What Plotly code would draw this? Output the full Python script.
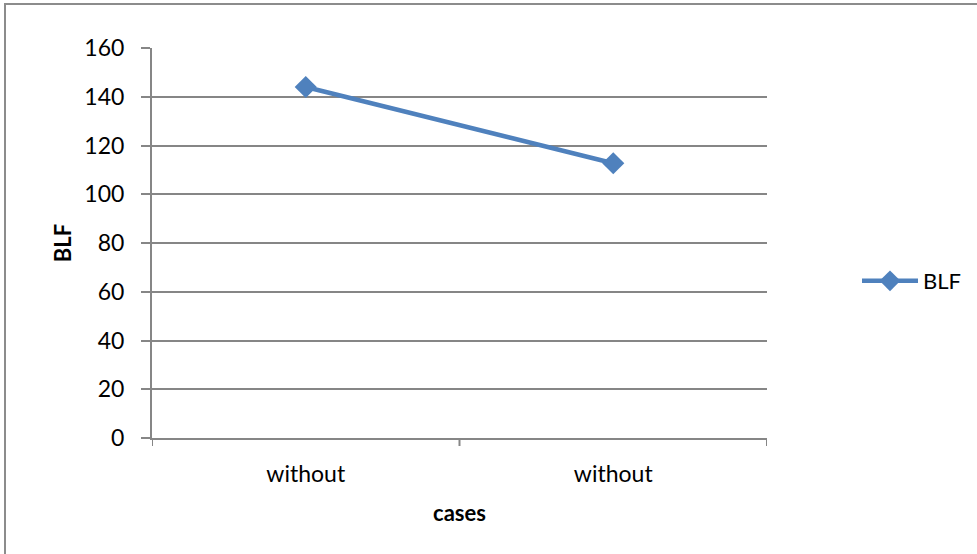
import plotly.graph_objects as go

categories = ["without", "without"]
blf_values = [144, 112.7]
y_ticks = [0, 20, 40, 60, 80, 100, 120, 140, 160]

W, H = 977, 554
L, R, T, B = 152, 767, 48, 438
pw, ph = R - L, B - T

x_pos = list(range(len(categories)))

fig = go.Figure()
fig.add_trace(go.Scatter(
    x=x_pos, y=blf_values, name="BLF", mode="lines+markers",
    line=dict(color="#4F81BD", width=4.5),
    marker=dict(symbol="diamond", size=17, color="#4F81BD"),
))

font = "Lato, 'Open Sans', sans-serif"
fs = 23
fig.update_layout(
    width=W, height=H,
    margin=dict(l=L, r=W - R, t=T, b=H - B, pad=0, autoexpand=False),
    paper_bgcolor="white", plot_bgcolor="white",
    font=dict(family=font, size=fs, color="black"),
    showlegend=True,
    legend=dict(x=(857 - L) / pw, y=(B - 281) / ph, xanchor="left", yanchor="middle",
                font=dict(size=fs - 1), itemwidth=56, bgcolor="rgba(0,0,0,0)"),
    xaxis=dict(
        range=[-0.5, len(categories) - 0.5],
        tickmode="array", tickvals=x_pos, ticktext=categories,
        showgrid=False, zeroline=False,
        showline=True, linecolor="#868686", linewidth=2,
        ticks="", ticklabelstandoff=14, automargin=False,
        title=dict(text="<b>cases</b>", font=dict(size=fs - 1), standoff=20),
    ),
    yaxis=dict(
        range=[0, 160], tickvals=y_ticks,
        showgrid=True, gridcolor="#868686", gridwidth=2,
        zeroline=False, showline=True, linecolor="#868686", linewidth=2,
        ticks="outside", ticklen=9, tickwidth=2, tickcolor="#868686",
        ticklabelstandoff=12, automargin=False,
        title=dict(text="<b>BLF</b>", font=dict(size=fs - 1), standoff=7),
    ),
)

# x-axis boundary tick marks between categories
for b in [-0.5, 0.5, 1.5]:
    fig.add_shape(type="line", xref="x", yref="paper", x0=b, x1=b, y0=0, y1=-8 / ph,
                  line=dict(color="#868686", width=2))

# outer chart border
fig.add_shape(type="rect", xref="paper", yref="paper",
              x0=(5 - L) / pw, x1=(W + 20 - L) / pw,
              y0=(B - (H + 20)) / ph, y1=1 + (T - 4) / ph,
              line=dict(color="#8c8c8c", width=2), fillcolor="rgba(0,0,0,0)", layer="below")

fig.write_html("out.html", config={"displayModeBar": False},
               post_script="document.body.style.margin='0';document.body.style.overflow='hidden';")
